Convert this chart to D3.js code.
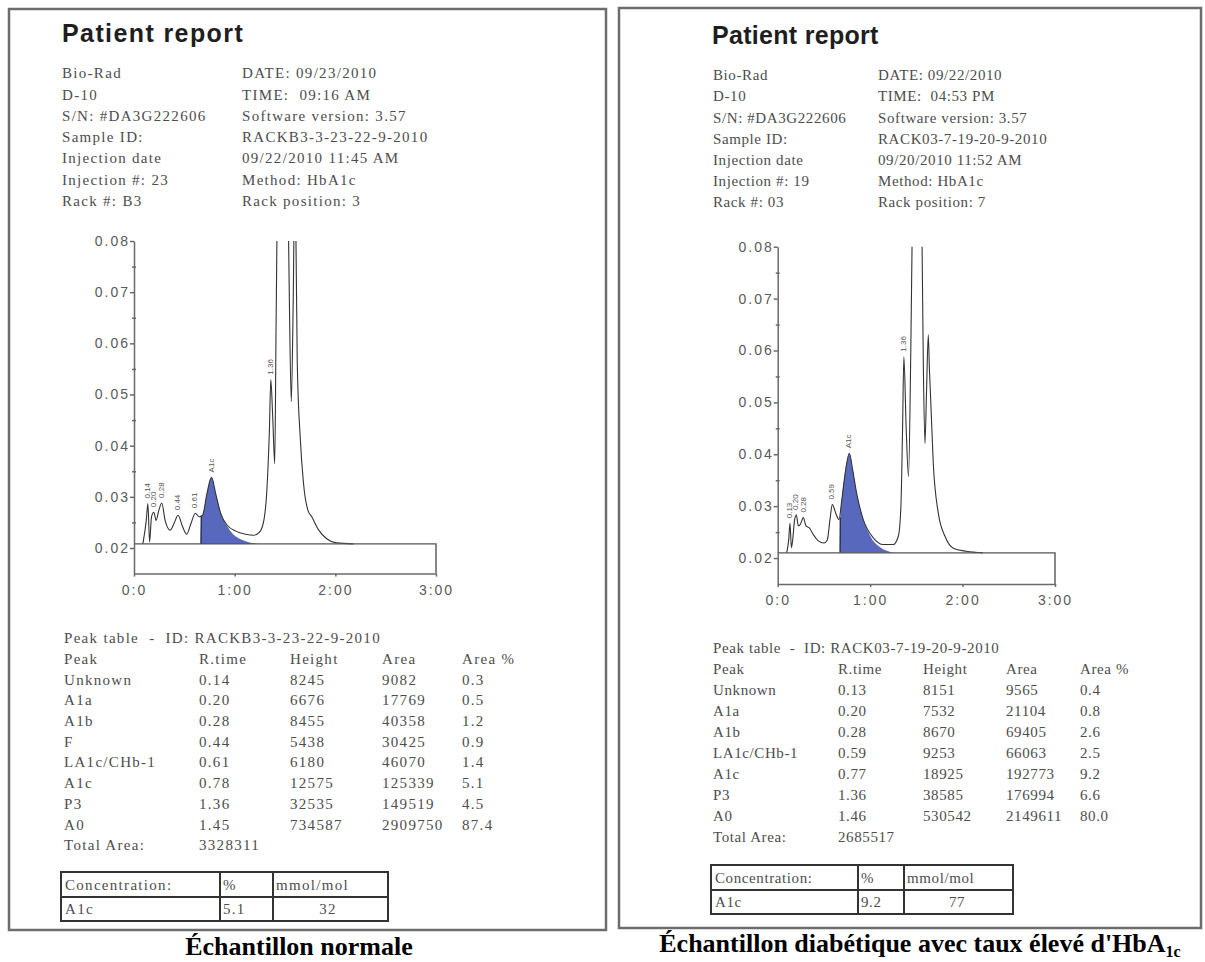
<!DOCTYPE html>
<html lang="fr">
<head>
<meta charset="utf-8">
<title>Patient report - HbA1c</title>
<script src="https://cdn.jsdelivr.net/npm/d3@7"></script>
<style>
body { margin: 0; background: #fff; }
.info, .tbl { font-family: "Liberation Serif", "Times New Roman", serif; font-size: 15px; fill: #4d4d4d; white-space: pre; }
.title { font-family: "Liberation Sans", Arial, sans-serif; font-weight: bold; font-size: 25px; fill: #1e1e1e; }
.axis text { font-family: "Liberation Sans", Arial, sans-serif; font-size: 14px; fill: #5a5a5a; letter-spacing: 2px; }
.axis path, .axis line { stroke: #6a6a6a; stroke-width: 1.5; }
.caption { font-family: "Liberation Serif", "Times New Roman", serif; font-weight: bold; font-size: 26px; fill: #000; }
.plabel { font-family: "Liberation Sans", Arial, sans-serif; font-size: 8px; fill: #555; }
</style>
</head>
<body>
<div id="chart"></div>
<script>
// ---- data ----
var infoKeys = ["Bio-Rad", "D-10", "S/N: #DA3G222606", "Sample ID:", "Injection date"];
var leftInfoLeft = infoKeys.concat(["Injection #: 23", "Rack #: B3"]);
var leftInfoRight = ["DATE: 09/23/2010", "TIME:  09:16 AM", "Software version: 3.57", "RACKB3-3-23-22-9-2010", "09/22/2010 11:45 AM", "Method: HbA1c", "Rack position: 3"];
var rightInfoLeft = infoKeys.concat(["Injection #: 19", "Rack #: 03"]);
var rightInfoRight = ["DATE: 09/22/2010", "TIME:  04:53 PM", "Software version: 3.57", "RACK03-7-19-20-9-2010", "09/20/2010 11:52 AM", "Method: HbA1c", "Rack position: 7"];

var tableHeader = ["Peak", "R.time", "Height", "Area", "Area %"];

var leftPeaks = ["Unknown", "A1a", "A1b", "F", "LA1c/CHb-1", "A1c", "P3", "A0"];
var leftRTime = ["0.14", "0.20", "0.28", "0.44", "0.61", "0.78", "1.36", "1.45"];
var leftHeight = [8245, 6676, 8455, 5438, 6180, 12575, 32535, 734587];
var leftArea = [9082, 17769, 40358, 30425, 46070, 125339, 149519, 2909750];
var leftAreaPct = ["0.3", "0.5", "1.2", "0.9", "1.4", "5.1", "4.5", "87.4"];
var leftTotal = 3328311;
var leftConc = ["5.1", "32"];

var rightPeaks = ["Unknown", "A1a", "A1b", "LA1c/CHb-1", "A1c", "P3", "A0"];
var rightRTime = ["0.13", "0.20", "0.28", "0.59", "0.77", "1.36", "1.46"];
var rightHeight = [8151, 7532, 8670, 9253, 18925, 38585, 530542];
var rightArea = [9565, 21104, 69405, 66063, 192773, 176994, 2149611];
var rightAreaPct = ["0.4", "0.8", "2.6", "2.5", "9.2", "6.6", "80.0"];
var rightTotal = 2685517;
var rightConc = ["9.2", "77"];

var yTicks = [0.02, 0.03, 0.04, 0.05, 0.06, 0.07, 0.08];
var yMinorTicks = [0.025, 0.035, 0.045, 0.055, 0.065, 0.075];
var xTicks = [0, 1, 2, 3];
var xTickLabels = ["0:0", "1:00", "2:00", "3:00"];

// chromatogram traces, time (min) / absorbance
var leftTraceT = [0.088, 0.122, 0.138, 0.155, 0.174, 0.197, 0.22, 0.247, 0.276, 0.309, 0.359, 0.398, 0.4375, 0.484, 0.523, 0.566, 0.609, 0.648, 0.681, 0.724, 0.770, 0.812, 0.862, 0.928, 1.01, 1.108, 1.19, 1.247, 1.29, 1.32, 1.345, 1.359, 1.378, 1.398, 1.411, 1.424, 1.47, 1.53, 1.543, 1.5625, 1.582, 1.595, 1.609, 1.622, 1.651, 1.684, 1.727, 1.766, 1.832, 1.914, 2.01, 2.18];
var leftTraceV = [0.0208, 0.0254, 0.0287, 0.0212, 0.0261, 0.0270, 0.0254, 0.0274, 0.0288, 0.0254, 0.0235, 0.0248, 0.0264, 0.0241, 0.0227, 0.0248, 0.0268, 0.0261, 0.0264, 0.0306, 0.0338, 0.0306, 0.0267, 0.0244, 0.0233, 0.0227, 0.0225, 0.0231, 0.0254, 0.0313, 0.043, 0.0529, 0.0456, 0.0365, 0.0626, 0.089, 0.2, 0.089, 0.069, 0.0486, 0.069, 0.089, 0.080, 0.056, 0.0417, 0.0326, 0.0274, 0.0261, 0.0236, 0.0218, 0.0210, 0.0208];
var leftFillT = [0.665, 0.668, 0.681, 0.724, 0.770, 0.812, 0.862, 0.928, 0.98, 1.05, 1.13, 1.23];
var leftFillV = [0.0208, 0.0262, 0.0264, 0.0306, 0.0338, 0.0306, 0.0267, 0.0242, 0.0228, 0.0218, 0.0212, 0.0208];
var leftLabels = ["0.14", "0.20", "0.28", "0.44", "0.61", "A1c", "1.36"];
var leftLabelT = [0.14, 0.20, 0.28, 0.44, 0.61, 0.77, 1.36];

var rightTraceT = [0.097, 0.119, 0.133, 0.148, 0.162, 0.184, 0.202, 0.223, 0.245, 0.277, 0.306, 0.342, 0.386, 0.44, 0.50, 0.537, 0.566, 0.591, 0.631, 0.663, 0.692, 0.735, 0.775, 0.811, 0.854, 0.926, 1.034, 1.142, 1.25, 1.305, 1.333, 1.351, 1.365, 1.39, 1.415, 1.44, 1.46, 1.51, 1.556, 1.575, 1.593, 1.61, 1.629, 1.642, 1.654, 1.683, 1.737, 1.81, 1.90, 2.04, 2.22];
var rightTraceV = [0.0210, 0.0235, 0.0267, 0.0220, 0.0235, 0.0275, 0.0283, 0.0262, 0.0265, 0.0278, 0.0262, 0.0258, 0.0245, 0.0233, 0.0229, 0.0235, 0.0275, 0.0303, 0.0285, 0.0274, 0.0310, 0.0370, 0.0402, 0.0370, 0.0325, 0.0274, 0.0239, 0.0226, 0.0226, 0.0242, 0.0300, 0.0450, 0.0588, 0.0450, 0.0357, 0.0600, 0.090, 0.2, 0.090, 0.058, 0.0421, 0.052, 0.063, 0.056, 0.0511, 0.0383, 0.0287, 0.0242, 0.0219, 0.0213, 0.0210];
var rightFillT = [0.674, 0.677, 0.692, 0.735, 0.775, 0.811, 0.854, 0.926, 0.98, 1.034, 1.10, 1.18, 1.26];
var rightFillV = [0.0210, 0.0278, 0.0310, 0.0370, 0.0402, 0.0370, 0.0325, 0.0274, 0.0250, 0.0233, 0.0222, 0.0214, 0.0210];
var rightLabels = ["0.13", "0.20", "0.28", "0.59", "A1c", "1.36"];
var rightLabelT = [0.13, 0.20, 0.28, 0.59, 0.775, 1.365];

// ---- layout ----
var panels = [
  { id: "L", border: [9, 9, 606, 930], title: [62, 33], titleSpacing: 1.4, infoX: [62, 242], infoY0: 73, infoDy: 21.3,
    textSpacing: 1.3,
    infoLeft: leftInfoLeft, infoRight: leftInfoRight,
    plot: { x0: 134, x1: 436, yTop: 241, yBot: 573.6 }, baseV: 0.0208,
    traceT: leftTraceT, traceV: leftTraceV, fillT: leftFillT, fillV: leftFillV,
    labels: leftLabels, labelT: leftLabelT,
    sampleId: "RACKB3-3-23-22-9-2010",
    tableX: [64, 199, 290, 382, 462], tableY0: 638, tableDy: 20.7,
    peaks: leftPeaks, rt: leftRTime, height: leftHeight, area: leftArea, pct: leftAreaPct, total: leftTotal,
    conc: leftConc, concX: [61, 220, 273, 388], concY: [872, 897, 921], concValX: 328,
    caption: [299, 955], captionText: "Échantillon normale", sub: null },
  { id: "R", border: [619, 8, 1201, 928], title: [712, 35], titleSpacing: 0.3, infoX: [713, 878], infoY0: 75, infoDy: 21.2,
    textSpacing: 0.6,
    infoLeft: rightInfoLeft, infoRight: rightInfoRight,
    plot: { x0: 777.7, x1: 1055, yTop: 246.7, yBot: 584 }, baseV: 0.021,
    traceT: rightTraceT, traceV: rightTraceV, fillT: rightFillT, fillV: rightFillV,
    labels: rightLabels, labelT: rightLabelT,
    sampleId: "RACK03-7-19-20-9-2010",
    tableX: [713, 838, 923, 1006, 1080], tableY0: 648, tableDy: 21,
    peaks: rightPeaks, rt: rightRTime, height: rightHeight, area: rightArea, pct: rightAreaPct, total: rightTotal,
    conc: rightConc, concX: [711, 858, 904, 1013], concY: [865, 890, 914], concValX: 957,
    caption: [920, 952], captionText: "Échantillon diabétique avec taux élevé d'HbA", sub: "1c" }
];

var svg = d3.select("#chart").append("svg")
  .attr("width", 1205).attr("height", 962);
svg.append("rect").attr("width", 1205).attr("height", 962).attr("fill", "#fff");

panels.forEach(function(p) {
  var g = svg.append("g");

  // frame
  g.append("rect")
    .attr("x", p.border[0]).attr("y", p.border[1])
    .attr("width", p.border[2] - p.border[0]).attr("height", p.border[3] - p.border[1])
    .attr("fill", "none").attr("stroke", "#6d6d6d").attr("stroke-width", 2.5);

  g.append("text").attr("class", "title")
    .attr("x", p.title[0]).attr("y", p.title[1]).attr("dy", "0.35em")
    .style("letter-spacing", p.titleSpacing + "px")
    .text("Patient report");

  // header info
  [p.infoLeft, p.infoRight].forEach(function(col, c) {
    g.selectAll(null).data(col).enter().append("text")
      .attr("class", "info")
      .style("letter-spacing", p.textSpacing + "px")
      .attr("x", p.infoX[c])
      .attr("y", function(d, i) { return p.infoY0 + i * p.infoDy; })
      .attr("dy", "0.35em")
      .text(function(d) { return d; });
  });

  // chromatogram
  var x = d3.scaleLinear().domain([0, 3]).range([p.plot.x0, p.plot.x1]);
  var y = d3.scaleLinear().domain([0.015, 0.08]).range([p.plot.yBot, p.plot.yTop]);

  var clipId = "clip" + p.id;
  svg.append("clipPath").attr("id", clipId).append("rect")
    .attr("x", x(0)).attr("y", y(0.08))
    .attr("width", x(3) - x(0)).attr("height", y(p.baseV) - y(0.08) + 1);

  var trace = p.traceT.map(function(t, i) { return [t, p.traceV[i]]; });
  var fill = p.fillT.map(function(t, i) { return [t, p.fillV[i]]; });

  var area = d3.area()
    .x(function(d) { return x(d[0]); })
    .y0(y(p.baseV))
    .y1(function(d) { return y(d[1]); })
    .curve(d3.curveMonotoneX);
  var line = d3.line()
    .x(function(d) { return x(d[0]); })
    .y(function(d) { return y(d[1]); })
    .curve(d3.curveMonotoneX);

  var plot = g.append("g").attr("clip-path", "url(#" + clipId + ")");
  plot.append("path").datum(fill).attr("d", area)
    .attr("fill", "#5868bd").attr("stroke", "none");
  plot.append("line")
    .attr("x1", x(p.fillT[0])).attr("x2", x(p.fillT[1]))
    .attr("y1", y(p.fillV[0])).attr("y2", y(p.fillV[1]))
    .attr("stroke", "#1c2340").attr("stroke-width", 1.2);
  plot.append("path").datum(trace).attr("d", line)
    .attr("fill", "none").attr("stroke", "#333").attr("stroke-width", 1.1);

  // baseline box
  g.append("path")
    .attr("d", "M" + x(0) + "," + y(p.baseV) + "H" + x(3) + "V" + y(0.015))
    .attr("fill", "none").attr("stroke", "#555").attr("stroke-width", 1.4);

  // axes
  g.append("g").attr("class", "axis")
    .attr("transform", "translate(" + x(0) + ",0)")
    .call(d3.axisLeft(y).tickValues(yTicks).tickFormat(d3.format(".2f"))
      .tickSize(4).tickPadding(0).tickSizeOuter(0));
  g.append("g").attr("class", "axis")
    .attr("transform", "translate(" + (x(0) + 2) + ",0)")
    .call(d3.axisLeft(y).tickValues(yMinorTicks).tickFormat("").tickSize(4).tickSizeOuter(0))
    .select(".domain").remove();
  g.append("g").attr("class", "axis")
    .attr("transform", "translate(0," + y(0.015) + ")")
    .call(d3.axisBottom(x).tickValues(xTicks)
      .tickFormat(function(d, i) { return xTickLabels[i]; })
      .tickSize(3).tickPadding(8).tickSizeOuter(0));

  // rotated retention-time labels above the peaks
  function apex(t) {
    var best = 0;
    trace.forEach(function(d) { if (Math.abs(d[0] - t) <= 0.02 && d[1] > best) best = d[1]; });
    return best;
  }
  g.selectAll(null).data(p.labels).enter().append("text")
    .attr("class", "plabel")
    .attr("transform", function(d, i) {
      return "translate(" + (x(p.labelT[i]) + 2) + "," + (y(apex(p.labelT[i])) - 5) + ") rotate(-90)";
    })
    .text(function(d) { return d; });

  // peak table
  g.append("text").attr("class", "tbl")
    .style("letter-spacing", p.textSpacing + "px")
    .attr("x", p.tableX[0]).attr("y", p.tableY0).attr("dy", "0.35em")
    .text("Peak table  -  ID: " + p.sampleId);
  var rows = [tableHeader].concat(p.peaks.map(function(n, i) {
    return [n, p.rt[i], p.height[i], p.area[i], p.pct[i]];
  }));
  rows.push(["Total Area:", p.total]);
  rows.forEach(function(r, ri) {
    g.selectAll(null).data(r).enter().append("text")
      .attr("class", "tbl")
      .style("letter-spacing", p.textSpacing + "px")
      .attr("x", function(d, ci) { return p.tableX[ci]; })
      .attr("y", p.tableY0 + (ri + 1) * p.tableDy)
      .attr("dy", "0.35em")
      .text(function(d) { return d; });
  });

  // concentration box
  var cx = p.concX, cy = p.concY;
  g.append("rect").attr("x", cx[0]).attr("y", cy[0])
    .attr("width", cx[3] - cx[0]).attr("height", cy[2] - cy[0])
    .attr("fill", "none").attr("stroke", "#333").attr("stroke-width", 2);
  g.append("path")
    .attr("d", "M" + cx[0] + "," + cy[1] + "H" + cx[3] +
               "M" + cx[1] + "," + cy[0] + "V" + cy[2] +
               "M" + cx[2] + "," + cy[0] + "V" + cy[2])
    .attr("stroke", "#333").attr("stroke-width", 2);
  var cells = [["Concentration:", cx[0] + 4, 0], ["%", cx[1] + 3, 0], ["mmol/mol", cx[2] + 3, 0],
               ["A1c", cx[0] + 4, 1], [p.conc[0], cx[1] + 3, 1], [p.conc[1], p.concValX, 1]];
  g.selectAll(null).data(cells).enter().append("text")
    .attr("class", "tbl")
    .style("letter-spacing", p.textSpacing + "px")
    .attr("x", function(d) { return d[1]; })
    .attr("y", function(d) { return (cy[d[2]] + cy[d[2] + 1]) / 2; })
    .attr("dy", "0.35em")
    .attr("text-anchor", function(d, i) { return i === 5 ? "middle" : "start"; })
    .text(function(d) { return d[0]; });

  // caption below the frame
  var cap = svg.append("text").attr("class", "caption")
    .attr("x", p.caption[0]).attr("y", p.caption[1])
    .attr("text-anchor", "middle")
    .text(p.captionText);
  if (p.sub) {
    cap.append("tspan").attr("dy", 5).style("font-size", "16px").text(p.sub);
  }
});
</script>
</body>
</html>
